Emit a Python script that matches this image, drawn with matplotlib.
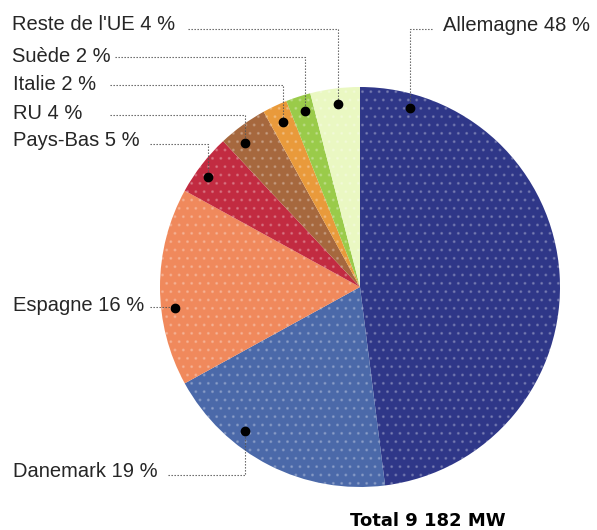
import matplotlib
matplotlib.use("Agg")
import matplotlib.pyplot as plt
import numpy as np

# ---- data ----
countries = ["Allemagne", "Danemark", "Espagne", "Pays-Bas", "RU", "Italie", "Suède", "Reste de l'UE"]
shares = [48, 19, 16, 5, 4, 2, 2, 4]
labels = ["Allemagne 48 %", "Danemark 19 %", "Espagne 16 %", "Pays-Bas 5 %",
          "RU 4 %", "Italie 2 %", "Suède 2 %", "Reste de l'UE 4 %"]
total_label = "Total 9 182 MW"

# ---- style / layout ----
colors = ["#2f3788", "#4b69a9", "#f0895c", "#c22b41", "#a6683e", "#e99a3b", "#9acb4a", "#eaf8c2"]
W, H, DPI = 597, 530, 100
CX, CY, R = 360, 287, 200           # pie centre / radius in pixels
dot_frac = [0.09, 0.67, 0.39, 0.39, 0.32, 0.53, 0.58, 0.52]
dot_rad = [0.93, 0.92, 0.93, 0.94, 0.92, 0.91, 0.92, 0.92]
# label text: left x, baseline y (pixels)
label_x = [443, 13, 13, 13, 13, 13, 12, 12]
label_base = [31, 477, 311, 146, 119, 90, 62, 30]
# leader line: start x and y (pixels)
leader_x = [432, 168, 150, 150, 110, 110, 115, 188]
leader_y = [29, 475, 307, 144, 115, 85, 57, 29]

plt.rcParams['font.family'] = ['Liberation Sans', 'DejaVu Sans']
fig = plt.figure(figsize=(W / DPI, H / DPI), dpi=DPI)
ax = fig.add_axes([0, 0, 1, 1])

def px(x, y):
    return (x - CX) / R, (CY - y) / R

wedges, _ = ax.pie(shares, colors=colors, startangle=90, counterclock=False,
                   radius=1.0, center=(0, 0), wedgeprops=dict(linewidth=0))
ax.set_xlim(-CX / R, (W - CX) / R)
ax.set_ylim(-(H - CY) / R, CY / R)
ax.set_aspect('equal')
ax.axis('off')
for w in wedges:
    w.set_hatch('..')
    w.set_edgecolor((1, 1, 1, 0.2))
    w.set_linewidth(0)

cum = np.cumsum([0] + shares)
tot = sum(shares)
for i, lab in enumerate(labels):
    a0 = 90 - 360 * cum[i] / tot
    a1 = 90 - 360 * cum[i + 1] / tot
    ang = np.deg2rad(a0 + (a1 - a0) * dot_frac[i])
    dx, dy = dot_rad[i] * np.cos(ang), dot_rad[i] * np.sin(ang)
    ax.plot(dx, dy, 'o', color='black', markersize=6, zorder=5)

    ax.text(*px(label_x[i], label_base[i]), lab, ha='left', va='baseline',
            fontsize=14.5, color='#262626')
    lx, ly = px(leader_x[i], leader_y[i])
    ax.plot([lx, dx, dx], [ly, ly, dy], color='#555555', lw=0.8,
            linestyle=(0, (1.2, 1.5)), zorder=4)

ax.text(*px(428, 526), total_label, ha='center', va='baseline', fontsize=13,
        fontweight='bold', family=['DejaVu Sans'], color='black')

fig.savefig("out.png", dpi=DPI)
